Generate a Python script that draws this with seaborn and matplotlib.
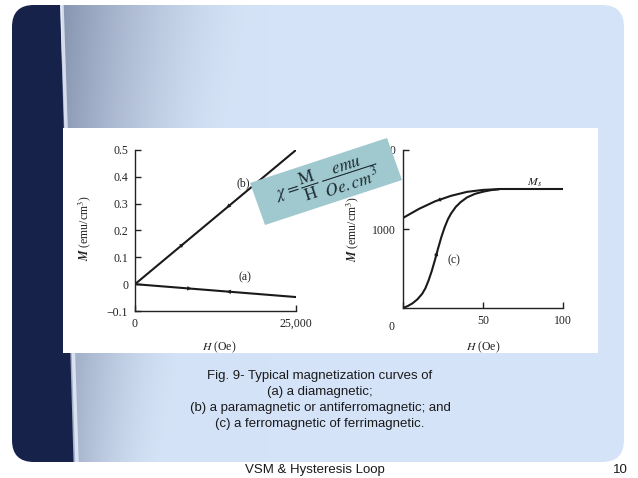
import numpy as np
import matplotlib
matplotlib.use('Agg')
import matplotlib.pyplot as plt
import seaborn as sns
from matplotlib.patches import FancyBboxPatch, Rectangle, Polygon

sns.set_theme(style='ticks')
plt.rcParams['font.family'] = ['Liberation Serif', 'DejaVu Serif']
plt.rcParams['mathtext.fontset'] = 'stix'

# (a) diamagnetic and (b) paramagnetic, straight lines through the origin
h_ab = [0, 25000]
m_a = [0, -0.048]
m_b = [0, 0.5]
left_yticks = [-0.1, 0, 0.1, 0.2, 0.3, 0.4, 0.5]
left_yticklabels = ['\u22120.1', '0', '0.1', '0.2', '0.3', '0.4', '0.5']
left_xticks = [0, 25000]
left_xticklabels = ['0', '25,000']

# (c) ferromagnetic: initial curve, return branch, saturation
h_init = [0, 3, 6, 9, 12, 14, 16, 18, 20, 22, 24, 26, 28, 30, 33, 36, 40, 45, 50, 55, 60]
m_init = [0, 25, 60, 110, 180, 250, 350, 470, 610, 760, 900, 1020, 1120, 1195, 1280, 1340, 1400, 1445, 1472, 1492, 1503]
h_ret = [0, 10, 20, 30, 40, 50, 60]
m_ret = [1140, 1255, 1350, 1420, 1470, 1495, 1505]
h_sat = [60, 100]
m_sat = [1505, 1505]
right_yticks = [1000, 2000]
right_xticks = [0, 50, 100]

caption = ['Fig. 9- Typical magnetization curves of',
           '(a) a diamagnetic;',
           '(b) a paramagnetic or antiferromagnetic; and',
           '(c) a ferromagnetic of ferrimagnetic.']

W, H = 638, 478
ink = '#222222'
fig = plt.figure(figsize=(W / 100, H / 100), dpi=100)
fig.patch.set_facecolor('white')

# slide background
bg = fig.add_axes([0, 0, 1, 1])
bg.set_xlim(0, W)
bg.set_ylim(H, 0)
bg.axis('off')
slide = FancyBboxPatch((12, 5), 612, 457, boxstyle='round,pad=0,rounding_size=22',
                       fc='#d5e3f8', ec='none')
bg.add_patch(slide)
# greyish fade next to the dark band, wider at the top
xx = np.linspace(0, 1, 220)[None, :]
yy = np.linspace(0, 1, 120)[:, None]
reach = 0.95 - 0.45 * yy
fade = np.clip(1 - xx / reach, 0, 1) ** 1.6 * (0.9 - 0.25 * yy)
gray = np.array([0.50, 0.55, 0.66])
blue = np.array([0.835, 0.89, 0.97])
img = blue * (1 - fade[..., None]) + gray * fade[..., None]
im = bg.imshow(img, extent=(62, 270, 462, 5), aspect='auto', zorder=1)
im.set_clip_path(slide)
navy = Polygon([(0, 0), (60, 0), (74, 478), (0, 478)], closed=True, fc='#17224a', ec='none', zorder=2)
bg.add_patch(navy)
navy.set_clip_path(slide)
stripe, = bg.plot([62, 77], [5, 462], color='#e8eefa', lw=2.5, alpha=0.8, zorder=3)
stripe.set_clip_path(slide)
bg.add_patch(Rectangle((63, 128), 535, 225, fc='white', ec='none', zorder=4))

for i, line in enumerate(caption):
    bg.text(320, 376 + 16 * i, line, ha='center', va='center', fontsize=9.5,
            family='Liberation Sans', color='#1a1a1a', zorder=5)
bg.text(315, 470, 'VSM & Hysteresis Loop', ha='center', va='center', fontsize=9.5,
        family='Liberation Sans', color='#1a1a1a')
bg.text(620, 470, '10', ha='center', va='center', fontsize=9.5,
        family='Liberation Sans', color='#1a1a1a')


def arrow(ax, xs, ys, x0, dx):
    y0 = np.interp(x0, xs, ys)
    y1 = np.interp(x0 + dx, xs, ys)
    ax.annotate('', xy=(x0 + dx, y1), xytext=(x0, y0), zorder=6,
                arrowprops=dict(arrowstyle='-|>', color='k', lw=0, mutation_scale=8,
                                shrinkA=0, shrinkB=0))


def style(ax):
    sns.despine(ax=ax)
    ax.set_facecolor('none')
    for s in ['left', 'bottom']:
        ax.spines[s].set_linewidth(1.0)
        ax.spines[s].set_color(ink)
    ax.tick_params(direction='in', length=4, width=1, colors=ink,
                   labelsize=8.5, pad=5, labelcolor=ink)


# left panel
ax1 = fig.add_axes([135 / W, 1 - 311 / H, 161 / W, 161 / H], zorder=5)
sns.lineplot(x=h_ab, y=m_a, ax=ax1, color='k', lw=1.5)
sns.lineplot(x=h_ab, y=m_b, ax=ax1, color='k', lw=1.5)
ax1.set_xlim(0, 25000)
ax1.set_ylim(-0.1, 0.5)
ax1.set_yticks(left_yticks)
ax1.set_yticklabels(left_yticklabels)
ax1.set_xticks(left_xticks)
ax1.set_xticklabels(left_xticklabels)
style(ax1)
arrow(ax1, h_ab, m_b, 7000, 600)
arrow(ax1, h_ab, m_b, 14800, -600)
arrow(ax1, h_ab, m_a, 8200, 600)
arrow(ax1, h_ab, m_a, 14800, -600)
ax1.text(16000, 0.003, '(a)', fontsize=8.5, va='bottom', color=ink)
ax1.text(15800, 0.377, '(b)', fontsize=8.5, va='center', color=ink)
ax1.set_xlabel(r'$H$ (Oe)', fontsize=8.5, color=ink)
ax1.set_ylabel(r'$\boldsymbol{M}$ (emu/cm$^3$)', fontsize=8.5, color=ink)
ax1.xaxis.set_label_coords(0.52, -0.18)
ax1.yaxis.set_label_coords(-0.26, 0.515)

# right panel
ax2 = fig.add_axes([403 / W, 1 - 308 / H, 160 / W, 158 / H], zorder=5)
sns.lineplot(x=h_init, y=m_init, ax=ax2, color='k', lw=1.5)
sns.lineplot(x=h_ret, y=m_ret, ax=ax2, color='k', lw=1.5)
sns.lineplot(x=h_sat, y=m_sat, ax=ax2, color='k', lw=1.5)
ax2.set_xlim(0, 100)
ax2.set_ylim(0, 2000)
ax2.set_yticks(right_yticks)
ax2.set_xticks(right_xticks)
style(ax2)
ax2.set_xticklabels(['', '50', '100'])
ax2.annotate('0', xy=(0, 0), xytext=(-8, -9), textcoords='offset points',
             ha='center', va='top', fontsize=8.5, color=ink)
arrow(ax2, h_init, m_init, 20.8, 0.6)
arrow(ax2, h_ret, m_ret, 23, -2)
ax2.text(27.5, 610, '(c)', fontsize=8.5, va='center', color=ink)
ax2.text(82, 1580, r'$M_s$', fontsize=8.5, va='center', ha='center', color=ink)
ax2.set_xlabel(r'$H$ (Oe)', fontsize=8.5, color=ink)
ax2.set_ylabel(r'$\boldsymbol{M}$ (emu/cm$^3$)', fontsize=8.5, color=ink)
ax2.xaxis.set_label_coords(0.5, -0.2)
ax2.yaxis.set_label_coords(-0.26, 0.5)

# overlay box with susceptibility formula
ov = fig.add_axes([0, 0, 1, 1], zorder=10)
ov.set_xlim(0, W)
ov.set_ylim(H, 0)
ov.axis('off')
ov.add_patch(Polygon([(250, 183), (387, 138), (402, 180), (265, 225)], closed=True,
                     fc='#9fc9ce', ec='none'))
ov.text(327, 181, r'$\chi = \dfrac{\mathrm{M}}{\mathrm{H}}\ \dfrac{emu}{Oe.cm^3}$',
        rotation=18, ha='center', va='center', fontsize=12.5, color='#1e2a30',
        rotation_mode='anchor')

fig.savefig('out.png', dpi=100)
